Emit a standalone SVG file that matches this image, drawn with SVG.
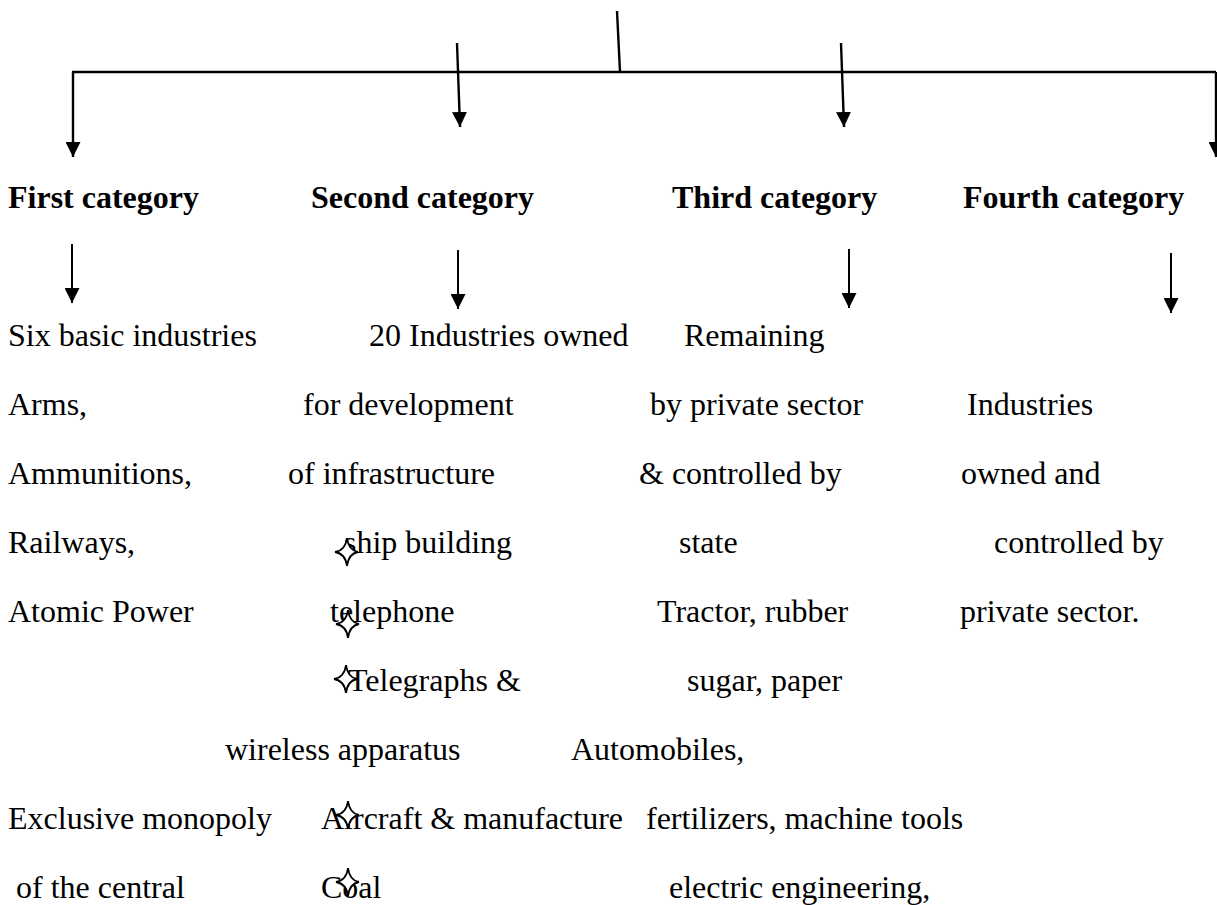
<svg xmlns="http://www.w3.org/2000/svg" width="1217" height="905" viewBox="0 0 1217 905">
<style>
  .t { font-family: "Liberation Serif", "Times New Roman", serif; font-size: 32px; fill: #000; }
  .b { font-weight: bold; }
  .ln { stroke: #000; stroke-width: 2.4; fill: none; }
  .ln2 { stroke: #000; stroke-width: 2; fill: none; }
  .star { fill: #fff; stroke: #000; stroke-width: 1.8; stroke-linejoin: miter; }
</style>
<defs>
  <marker id="ah" viewBox="0 0 15 15" refX="15" refY="7.5" markerWidth="15" markerHeight="15" orient="auto" markerUnits="userSpaceOnUse">
    <path d="M0,0 L15,7.5 L0,15 Z" fill="#000"/>
  </marker>
  <path id="st" class="star" d="M0,-14 Q1.6,-1.6 11,0 Q1.6,1.6 0,14 Q-1.6,1.6 -12,0 Q-1.6,-1.6 0,-14 Z"/>
</defs>
<rect width="1217" height="905" fill="#fff"/>
<g id="connectors">
  <line class="ln" x1="617" y1="11" x2="620" y2="72"/>
  <line class="ln" x1="72" y1="72" x2="1216" y2="72"/>
  <line class="ln" x1="73" y1="72" x2="73" y2="157" marker-end="url(#ah)"/>
  <line class="ln" x1="1216" y1="72" x2="1216" y2="157" marker-end="url(#ah)"/>
  <line class="ln" x1="457" y1="43" x2="460" y2="127" marker-end="url(#ah)"/>
  <line class="ln" x1="841" y1="43" x2="844" y2="127" marker-end="url(#ah)"/>
  <line class="ln2" x1="72" y1="244" x2="72" y2="303" marker-end="url(#ah)"/>
  <line class="ln2" x1="458" y1="250" x2="458" y2="309" marker-end="url(#ah)"/>
  <line class="ln2" x1="849" y1="249" x2="849" y2="308" marker-end="url(#ah)"/>
  <line class="ln2" x1="1171" y1="253" x2="1171" y2="313" marker-end="url(#ah)"/>
</g>
<g id="first">
  <text class="t b" x="8" y="208">First category</text>
  <text class="t" x="8" y="346">Six basic industries</text>
  <text class="t" x="8" y="415">Arms,</text>
  <text class="t" x="8" y="484">Ammunitions,</text>
  <text class="t" x="8" y="553">Railways,</text>
  <text class="t" x="8" y="622">Atomic Power</text>
  <text class="t" x="8" y="829">Exclusive monopoly</text>
  <text class="t" x="16" y="898">of the central</text>
</g>
<g id="second">
  <text class="t b" x="311" y="208">Second category</text>
  <text class="t" x="369" y="346">20 Industries owned</text>
  <text class="t" x="303" y="415">for development</text>
  <text class="t" x="288" y="484">of infrastructure</text>
  <text class="t" x="344" y="553">ship building</text>
  <text class="t" x="330" y="622">telephone</text>
  <text class="t" x="348" y="691">Telegraphs &amp;</text>
  <text class="t" x="225" y="760">wireless apparatus</text>
  <text class="t" x="321" y="829">Aircraft &amp; manufacture</text>
  <text class="t" x="321" y="898">Coal</text>
  <use href="#st" x="347" y="552"/>
  <use href="#st" x="348" y="624"/>
  <use href="#st" x="346" y="679"/>
  <use href="#st" x="348" y="815"/>
  <use href="#st" x="348" y="882"/>
</g>
<g id="third">
  <text class="t b" x="672" y="208">Third category</text>
  <text class="t" x="684" y="346">Remaining</text>
  <text class="t" x="650" y="415">by private sector</text>
  <text class="t" x="639" y="484">&amp; controlled by</text>
  <text class="t" x="679" y="553">state</text>
  <text class="t" x="657" y="622">Tractor, rubber</text>
  <text class="t" x="687" y="691">sugar, paper</text>
  <text class="t" x="571" y="760">Automobiles,</text>
  <text class="t" x="646" y="829">fertilizers, machine tools</text>
  <text class="t" x="669" y="898">electric engineering,</text>
</g>
<g id="fourth">
  <text class="t b" x="963" y="208">Fourth category</text>
  <text class="t" x="967" y="415">Industries</text>
  <text class="t" x="961" y="484">owned and</text>
  <text class="t" x="994" y="553">controlled by</text>
  <text class="t" x="960" y="622">private sector.</text>
</g>
</svg>
